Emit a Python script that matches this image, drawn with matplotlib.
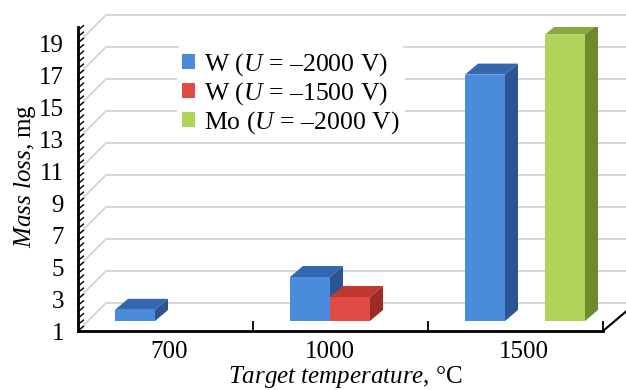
import matplotlib.pyplot as plt
import numpy as np
from matplotlib.patches import Polygon
from matplotlib.collections import LineCollection

plt.rcParams['font.family'] = 'Liberation Serif'
plt.rcParams['mathtext.fontset'] = 'custom'
plt.rcParams['mathtext.rm'] = 'Liberation Serif'
plt.rcParams['mathtext.it'] = 'Liberation Serif:italic'

# data
categories = ['700', '1000', '1500']
w_2000 = [1.7, 3.75, 16.4]
w_1500 = [np.nan, 2.5, np.nan]
mo_2000 = [np.nan, np.nan, 18.9]
series_names = ['W ($U$ = –2000 V)', 'W ($U$ = –1500 V)', 'Mo ($U$ = –2000 V)']
y_ticks = np.arange(1, 20, 2)

# front / top / side colours for each series
colors = [('#4a8bdb', '#3467b0', '#2b5592'),
          ('#e04b45', '#c0372f', '#9c2a25'),
          ('#b0d459', '#8aa93c', '#6e8a2e')]

fig = plt.figure(figsize=(6.26, 3.9), dpi=100)
ax = fig.add_axes([78/626, 59/390, 525/626, 304/390])
ax.set_xlim(0, 3)
ax.set_ylim(1, 20)

# pixel -> data factors, used for the fake depth
sx = 3/525
sy = 19/304
Dx, Dy = 28*sx, 28*sy          # full depth of the floor
fx, fy = 9.5*sx, 10*sy         # bars sit a bit back from the front
bx, by = 13*sx, 11*sy          # depth of one bar
right = 3 + 30*sx

# back wall + side wall grid lines
for v in y_ticks:
    ax.plot([0, Dx, right], [v, v+Dy, v+Dy], color='#d0d0d0', lw=1.2,
            clip_on=False, zorder=0.5)

# bars
n = 3
w = 40*sx
data = [w_2000, w_1500, mo_2000]
handles = []
for i, vals in enumerate(data):
    front, top, side = colors[i]
    vals = np.array(vals)
    xs = np.arange(len(categories)) + 0.5 - n*w/2 + i*w + fx
    ok = ~np.isnan(vals)
    bars = ax.bar(xs[ok], vals[ok]-1, bottom=1+fy, width=w, align='edge',
                  color=front, zorder=2+i, label=series_names[i])
    handles.append(bars)
    for x0, v in zip(xs[ok], vals[ok]):
        yt = v + fy
        yb = 1 + fy
        ax.add_patch(Polygon([(x0, yt), (x0+w, yt), (x0+w+bx, yt+by), (x0+bx, yt+by)],
                             closed=True, facecolor=top, edgecolor='none', zorder=2+i))
        ax.add_patch(Polygon([(x0+w, yb), (x0+w+bx, yb+by), (x0+w+bx, yt+by), (x0+w, yt)],
                             closed=True, facecolor=side, edgecolor='none', zorder=2+i))

# axes lines
for s in ['top', 'right']:
    ax.spines[s].set_visible(False)
ax.spines['left'].set_linewidth(2)
ax.spines['bottom'].set_linewidth(2)
ax.plot([3, 3+26*sx], [1, 1+22*sy], color='black', lw=1.5, clip_on=False, zorder=6)

# diagonal minor ticks on the value axis
minor = np.arange(1, 20.01, 0.4)
segs = [[(0, v), (6*sx, v+5*sy)] for v in minor]
ax.add_collection(LineCollection(segs, colors='black', linewidths=1, zorder=6, clip_on=False))

ax.set_yticks(y_ticks)
ax.tick_params(axis='y', length=0, pad=10, labelsize=18)
ax.set_xticks([0.52, 1.44, 2.55])
ax.set_xticklabels(categories)
ax.set_xticks([1, 2, 3], minor=True)
ax.tick_params(axis='x', which='major', length=0, pad=7, labelsize=18)
ax.tick_params(axis='x', which='minor', direction='in', length=7, width=1.3)

ax.set_ylabel('$Mass\\ loss$, mg', fontsize=18, va='center')
ax.yaxis.set_label_coords(-0.101, 0.51)
ax.set_xlabel('$Target\\ temperature$, °C', fontsize=18, va='center')
ax.xaxis.set_label_coords(0.51, -0.15)

leg = ax.legend(handles=handles, loc='upper left', bbox_to_anchor=(177/626, 1-46/390),
                bbox_transform=fig.transFigure, fontsize=18.5, frameon=True,
                handlelength=0.5, handleheight=0.5, handletextpad=0.35,
                labelspacing=0.08, borderpad=0.2, borderaxespad=0)
leg.get_frame().set_facecolor('white')
leg.get_frame().set_edgecolor('none')
leg.get_frame().set_alpha(1)

fig.savefig('out.png', dpi=100)
